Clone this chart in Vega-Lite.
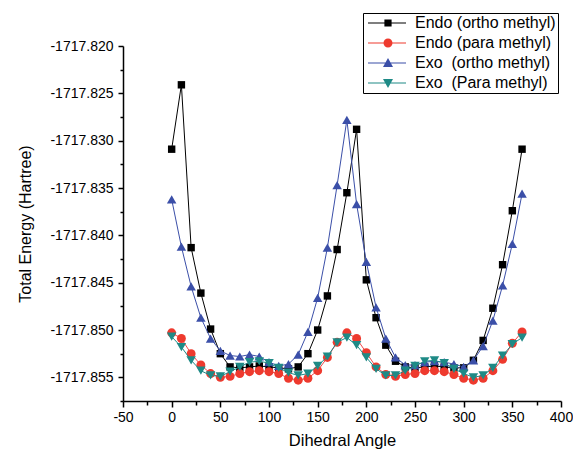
{
  "$schema": "https://vega.github.io/schema/vega-lite/v6.json",
  "width": 438,
  "height": 355,
  "autosize": "none",
  "padding": {"left": 123, "top": 46, "right": 12, "bottom": 48},
  "background": "white",
  "config": {"view": {"stroke": null}, "font": "Liberation Sans"},
  "data": {"values": [
    {"s":"Endo (ortho methyl)","a":0,"e":-1717.8309},{"s":"Endo (ortho methyl)","a":10,"e":-1717.8241},{"s":"Endo (ortho methyl)","a":20,"e":-1717.8413},{"s":"Endo (ortho methyl)","a":30,"e":-1717.8461},{"s":"Endo (ortho methyl)","a":40,"e":-1717.8499},{"s":"Endo (ortho methyl)","a":50,"e":-1717.8525},{"s":"Endo (ortho methyl)","a":60,"e":-1717.8539},{"s":"Endo (ortho methyl)","a":70,"e":-1717.854},{"s":"Endo (ortho methyl)","a":80,"e":-1717.8539},{"s":"Endo (ortho methyl)","a":90,"e":-1717.8538},{"s":"Endo (ortho methyl)","a":100,"e":-1717.8539},{"s":"Endo (ortho methyl)","a":110,"e":-1717.854},{"s":"Endo (ortho methyl)","a":120,"e":-1717.8541},{"s":"Endo (ortho methyl)","a":130,"e":-1717.8539},{"s":"Endo (ortho methyl)","a":140,"e":-1717.8525},{"s":"Endo (ortho methyl)","a":150,"e":-1717.85},{"s":"Endo (ortho methyl)","a":160,"e":-1717.8464},{"s":"Endo (ortho methyl)","a":170,"e":-1717.8415},{"s":"Endo (ortho methyl)","a":180,"e":-1717.8355},{"s":"Endo (ortho methyl)","a":190,"e":-1717.8288},{"s":"Endo (ortho methyl)","a":200,"e":-1717.8447},{"s":"Endo (ortho methyl)","a":210,"e":-1717.8487},{"s":"Endo (ortho methyl)","a":220,"e":-1717.8516},{"s":"Endo (ortho methyl)","a":230,"e":-1717.8533},{"s":"Endo (ortho methyl)","a":240,"e":-1717.8539},{"s":"Endo (ortho methyl)","a":250,"e":-1717.854},{"s":"Endo (ortho methyl)","a":260,"e":-1717.8539},{"s":"Endo (ortho methyl)","a":270,"e":-1717.8538},{"s":"Endo (ortho methyl)","a":280,"e":-1717.8539},{"s":"Endo (ortho methyl)","a":290,"e":-1717.854},{"s":"Endo (ortho methyl)","a":300,"e":-1717.854},{"s":"Endo (ortho methyl)","a":310,"e":-1717.8532},{"s":"Endo (ortho methyl)","a":320,"e":-1717.8511},{"s":"Endo (ortho methyl)","a":330,"e":-1717.8477},{"s":"Endo (ortho methyl)","a":340,"e":-1717.8431},{"s":"Endo (ortho methyl)","a":350,"e":-1717.8374},{"s":"Endo (ortho methyl)","a":360,"e":-1717.8309},
    {"s":"Endo (para methyl)","a":0,"e":-1717.8503},{"s":"Endo (para methyl)","a":10,"e":-1717.8509},{"s":"Endo (para methyl)","a":20,"e":-1717.8525},{"s":"Endo (para methyl)","a":30,"e":-1717.8537},{"s":"Endo (para methyl)","a":40,"e":-1717.8546},{"s":"Endo (para methyl)","a":50,"e":-1717.855},{"s":"Endo (para methyl)","a":60,"e":-1717.8549},{"s":"Endo (para methyl)","a":70,"e":-1717.8546},{"s":"Endo (para methyl)","a":80,"e":-1717.8544},{"s":"Endo (para methyl)","a":90,"e":-1717.8543},{"s":"Endo (para methyl)","a":100,"e":-1717.8544},{"s":"Endo (para methyl)","a":110,"e":-1717.8546},{"s":"Endo (para methyl)","a":120,"e":-1717.8551},{"s":"Endo (para methyl)","a":130,"e":-1717.8553},{"s":"Endo (para methyl)","a":140,"e":-1717.8551},{"s":"Endo (para methyl)","a":150,"e":-1717.8543},{"s":"Endo (para methyl)","a":160,"e":-1717.8529},{"s":"Endo (para methyl)","a":170,"e":-1717.8513},{"s":"Endo (para methyl)","a":180,"e":-1717.8503},{"s":"Endo (para methyl)","a":190,"e":-1717.8509},{"s":"Endo (para methyl)","a":200,"e":-1717.8524},{"s":"Endo (para methyl)","a":210,"e":-1717.8539},{"s":"Endo (para methyl)","a":220,"e":-1717.8547},{"s":"Endo (para methyl)","a":230,"e":-1717.8549},{"s":"Endo (para methyl)","a":240,"e":-1717.8547},{"s":"Endo (para methyl)","a":250,"e":-1717.8546},{"s":"Endo (para methyl)","a":260,"e":-1717.8543},{"s":"Endo (para methyl)","a":270,"e":-1717.8543},{"s":"Endo (para methyl)","a":280,"e":-1717.8544},{"s":"Endo (para methyl)","a":290,"e":-1717.8547},{"s":"Endo (para methyl)","a":300,"e":-1717.8551},{"s":"Endo (para methyl)","a":310,"e":-1717.8553},{"s":"Endo (para methyl)","a":320,"e":-1717.8551},{"s":"Endo (para methyl)","a":330,"e":-1717.8543},{"s":"Endo (para methyl)","a":340,"e":-1717.8531},{"s":"Endo (para methyl)","a":350,"e":-1717.8514},{"s":"Endo (para methyl)","a":360,"e":-1717.8502},
    {"s":"Exo \u00a0(ortho methyl)","a":0,"e":-1717.8362},{"s":"Exo \u00a0(ortho methyl)","a":10,"e":-1717.8412},{"s":"Exo \u00a0(ortho methyl)","a":20,"e":-1717.8454},{"s":"Exo \u00a0(ortho methyl)","a":30,"e":-1717.8487},{"s":"Exo \u00a0(ortho methyl)","a":40,"e":-1717.8509},{"s":"Exo \u00a0(ortho methyl)","a":50,"e":-1717.8522},{"s":"Exo \u00a0(ortho methyl)","a":60,"e":-1717.8527},{"s":"Exo \u00a0(ortho methyl)","a":70,"e":-1717.8528},{"s":"Exo \u00a0(ortho methyl)","a":80,"e":-1717.8526},{"s":"Exo \u00a0(ortho methyl)","a":90,"e":-1717.8528},{"s":"Exo \u00a0(ortho methyl)","a":100,"e":-1717.8534},{"s":"Exo \u00a0(ortho methyl)","a":110,"e":-1717.8538},{"s":"Exo \u00a0(ortho methyl)","a":120,"e":-1717.8536},{"s":"Exo \u00a0(ortho methyl)","a":130,"e":-1717.8526},{"s":"Exo \u00a0(ortho methyl)","a":140,"e":-1717.8502},{"s":"Exo \u00a0(ortho methyl)","a":150,"e":-1717.8466},{"s":"Exo \u00a0(ortho methyl)","a":160,"e":-1717.8413},{"s":"Exo \u00a0(ortho methyl)","a":170,"e":-1717.8347},{"s":"Exo \u00a0(ortho methyl)","a":180,"e":-1717.8278},{"s":"Exo \u00a0(ortho methyl)","a":190,"e":-1717.8367},{"s":"Exo \u00a0(ortho methyl)","a":200,"e":-1717.8428},{"s":"Exo \u00a0(ortho methyl)","a":210,"e":-1717.8476},{"s":"Exo \u00a0(ortho methyl)","a":220,"e":-1717.8509},{"s":"Exo \u00a0(ortho methyl)","a":230,"e":-1717.8529},{"s":"Exo \u00a0(ortho methyl)","a":240,"e":-1717.8537},{"s":"Exo \u00a0(ortho methyl)","a":250,"e":-1717.8537},{"s":"Exo \u00a0(ortho methyl)","a":260,"e":-1717.8534},{"s":"Exo \u00a0(ortho methyl)","a":270,"e":-1717.8533},{"s":"Exo \u00a0(ortho methyl)","a":280,"e":-1717.8534},{"s":"Exo \u00a0(ortho methyl)","a":290,"e":-1717.8536},{"s":"Exo \u00a0(ortho methyl)","a":300,"e":-1717.8539},{"s":"Exo \u00a0(ortho methyl)","a":310,"e":-1717.8532},{"s":"Exo \u00a0(ortho methyl)","a":320,"e":-1717.8517},{"s":"Exo \u00a0(ortho methyl)","a":330,"e":-1717.849},{"s":"Exo \u00a0(ortho methyl)","a":340,"e":-1717.8453},{"s":"Exo \u00a0(ortho methyl)","a":350,"e":-1717.8409},{"s":"Exo \u00a0(ortho methyl)","a":360,"e":-1717.8356},
    {"s":"Exo \u00a0(Para methyl)","a":0,"e":-1717.8507},{"s":"Exo \u00a0(Para methyl)","a":10,"e":-1717.8518},{"s":"Exo \u00a0(Para methyl)","a":20,"e":-1717.8532},{"s":"Exo \u00a0(Para methyl)","a":30,"e":-1717.8543},{"s":"Exo \u00a0(Para methyl)","a":40,"e":-1717.8548},{"s":"Exo \u00a0(Para methyl)","a":50,"e":-1717.8549},{"s":"Exo \u00a0(Para methyl)","a":60,"e":-1717.8544},{"s":"Exo \u00a0(Para methyl)","a":70,"e":-1717.8539},{"s":"Exo \u00a0(Para methyl)","a":80,"e":-1717.8534},{"s":"Exo \u00a0(Para methyl)","a":90,"e":-1717.8533},{"s":"Exo \u00a0(Para methyl)","a":100,"e":-1717.8535},{"s":"Exo \u00a0(Para methyl)","a":110,"e":-1717.854},{"s":"Exo \u00a0(Para methyl)","a":120,"e":-1717.8545},{"s":"Exo \u00a0(Para methyl)","a":130,"e":-1717.8548},{"s":"Exo \u00a0(Para methyl)","a":140,"e":-1717.8546},{"s":"Exo \u00a0(Para methyl)","a":150,"e":-1717.8538},{"s":"Exo \u00a0(Para methyl)","a":160,"e":-1717.8528},{"s":"Exo \u00a0(Para methyl)","a":170,"e":-1717.8513},{"s":"Exo \u00a0(Para methyl)","a":180,"e":-1717.8508},{"s":"Exo \u00a0(Para methyl)","a":190,"e":-1717.8516},{"s":"Exo \u00a0(Para methyl)","a":200,"e":-1717.8529},{"s":"Exo \u00a0(Para methyl)","a":210,"e":-1717.8541},{"s":"Exo \u00a0(Para methyl)","a":220,"e":-1717.8548},{"s":"Exo \u00a0(Para methyl)","a":230,"e":-1717.8548},{"s":"Exo \u00a0(Para methyl)","a":240,"e":-1717.8543},{"s":"Exo \u00a0(Para methyl)","a":250,"e":-1717.8538},{"s":"Exo \u00a0(Para methyl)","a":260,"e":-1717.8533},{"s":"Exo \u00a0(Para methyl)","a":270,"e":-1717.8532},{"s":"Exo \u00a0(Para methyl)","a":280,"e":-1717.8535},{"s":"Exo \u00a0(Para methyl)","a":290,"e":-1717.8541},{"s":"Exo \u00a0(Para methyl)","a":300,"e":-1717.8546},{"s":"Exo \u00a0(Para methyl)","a":310,"e":-1717.855},{"s":"Exo \u00a0(Para methyl)","a":320,"e":-1717.8548},{"s":"Exo \u00a0(Para methyl)","a":330,"e":-1717.854},{"s":"Exo \u00a0(Para methyl)","a":340,"e":-1717.8527},{"s":"Exo \u00a0(Para methyl)","a":350,"e":-1717.8515},{"s":"Exo \u00a0(Para methyl)","a":360,"e":-1717.8508}
  ]},
  "encoding": {
    "x": {"field": "a", "type": "quantitative",
      "scale": {"domain": [-50, 400], "nice": false, "zero": false},
      "axis": {"title": "Dihedral Angle", "values": [-50,-25,0,25,50,75,100,125,150,175,200,225,250,275,300,325,350,375,400],
        "labelExpr": "datum.value % 50 == 0 ? replace(format(datum.value, 'd'), '\u2212', '-') : ''",
        "tickSize": {"condition": {"test": "datum.value % 50 != 0", "value": 4}, "value": 6},
        "grid": false, "domainColor": "black", "domainWidth": 1.5, "tickColor": "black", "tickWidth": 1.5,
        "labelFont": "Liberation Sans", "labelFontSize": 14, "labelColor": "black", "labelPadding": 3,
        "labelFlush": false, "labelOverlap": false,
        "titleFont": "Liberation Sans", "titleFontSize": 16.5, "titleFontWeight": "normal", "titleColor": "black", "titlePadding": 8}},
    "y": {"field": "e", "type": "quantitative",
      "scale": {"domain": [-1717.8575, -1717.82], "nice": false, "zero": false},
      "axis": {"title": "Total Energy (Hartree)",
        "values": [-1717.8575,-1717.855,-1717.8525,-1717.85,-1717.8475,-1717.845,-1717.8425,-1717.84,-1717.8375,-1717.835,-1717.8325,-1717.83,-1717.8275,-1717.825,-1717.8225,-1717.82],
        "labelExpr": "abs(datum.value/0.005 - round(datum.value/0.005)) < 0.1 ? replace(format(datum.value, '.3f'), '\u2212', '-') : ''",
        "tickSize": {"condition": {"test": "abs(datum.value/0.005 - round(datum.value/0.005)) > 0.1", "value": 3}, "value": 5},
        "grid": false, "domainColor": "black", "domainWidth": 1.5, "tickColor": "black", "tickWidth": 1.5,
        "labelFont": "Liberation Sans", "labelFontSize": 14, "labelColor": "black", "labelPadding": 5,
        "labelFlush": false, "labelOverlap": false,
        "titleFont": "Liberation Sans", "titleFontSize": 16, "titleFontWeight": "normal", "titleColor": "black", "titlePadding": 16}}
  },
  "layer": [
    {"transform": [{"filter": {"field": "s", "equal": "Endo (ortho methyl)"}}],
     "mark": {"type": "line", "strokeWidth": 1, "color": "#000000",
       "point": {"shape": "square", "filled": true, "opacity": 1, "size": 55, "color": "#000000"}}},
    {"transform": [{"filter": {"field": "s", "equal": "Endo (para methyl)"}}],
     "mark": {"type": "line", "strokeWidth": 1, "color": "#f0484a",
       "point": {"shape": "circle", "filled": true, "opacity": 1, "size": 80, "color": "#ee3a2e"}}},
    {"transform": [{"filter": {"field": "s", "equal": "Exo \u00a0(ortho methyl)"}}],
     "mark": {"type": "line", "strokeWidth": 1, "color": "#3b4fa8",
       "point": {"shape": "triangle-up", "filled": true, "opacity": 1, "size": 90, "color": "#3b4fa8"}}},
    {"transform": [{"filter": {"field": "s", "equal": "Exo \u00a0(Para methyl)"}}],
     "mark": {"type": "line", "strokeWidth": 1, "color": "#1e8a86",
       "point": {"shape": "triangle-down", "filled": true, "opacity": 1, "size": 90, "color": "#1e8a86"}}},
    {"mark": {"type": "point", "filled": true, "opacity": 0},
     "encoding": {
       "color": {"field": "s", "type": "nominal",
         "scale": {"domain": ["Endo (ortho methyl)", "Endo (para methyl)", "Exo \u00a0(ortho methyl)", "Exo \u00a0(Para methyl)"],
                  "range": ["#000000", "#ee3a2e", "#3b4fa8", "#1e8a86"]},
         "legend": {"title": null, "orient": "none", "legendX": 240, "legendY": -33, "strokeColor": "black", "padding": 2, "rowPadding": 4,
           "symbolSize": 100, "symbolStrokeWidth": 0, "symbolOpacity": 1, "labelFont": "Liberation Sans", "labelFontSize": 16, "labelColor": "black", "labelOffset": 34, "labelLimit": 300}},
       "shape": {"field": "s", "type": "nominal",
         "scale": {"domain": ["Endo (ortho methyl)", "Endo (para methyl)", "Exo \u00a0(ortho methyl)", "Exo \u00a0(Para methyl)"],
           "range": [
             "M-1,-0.1H6.6V0.1H-1Z M2.28,-0.72H3.72V0.72H2.28Z",
             "M-1,-0.1H6.6V0.1H-1Z M2.1,0A0.9,0.9 0 1 1 3.9,0A0.9,0.9 0 1 1 2.1,0Z",
             "M-1,-0.1H6.6V0.1H-1Z M3,-1L4,0.8L2,0.8Z",
             "M-1,-0.1H6.6V0.1H-1Z M3,1L2,-0.8L4,-0.8Z"]},
         "legend": {"title": null, "orient": "none", "legendX": 240, "legendY": -33, "strokeColor": "black", "padding": 2, "rowPadding": 4,
           "symbolSize": 100, "symbolStrokeWidth": 0, "symbolOpacity": 1, "labelFont": "Liberation Sans", "labelFontSize": 16, "labelColor": "black", "labelOffset": 34, "labelLimit": 300}}
     }}
  ]
}
